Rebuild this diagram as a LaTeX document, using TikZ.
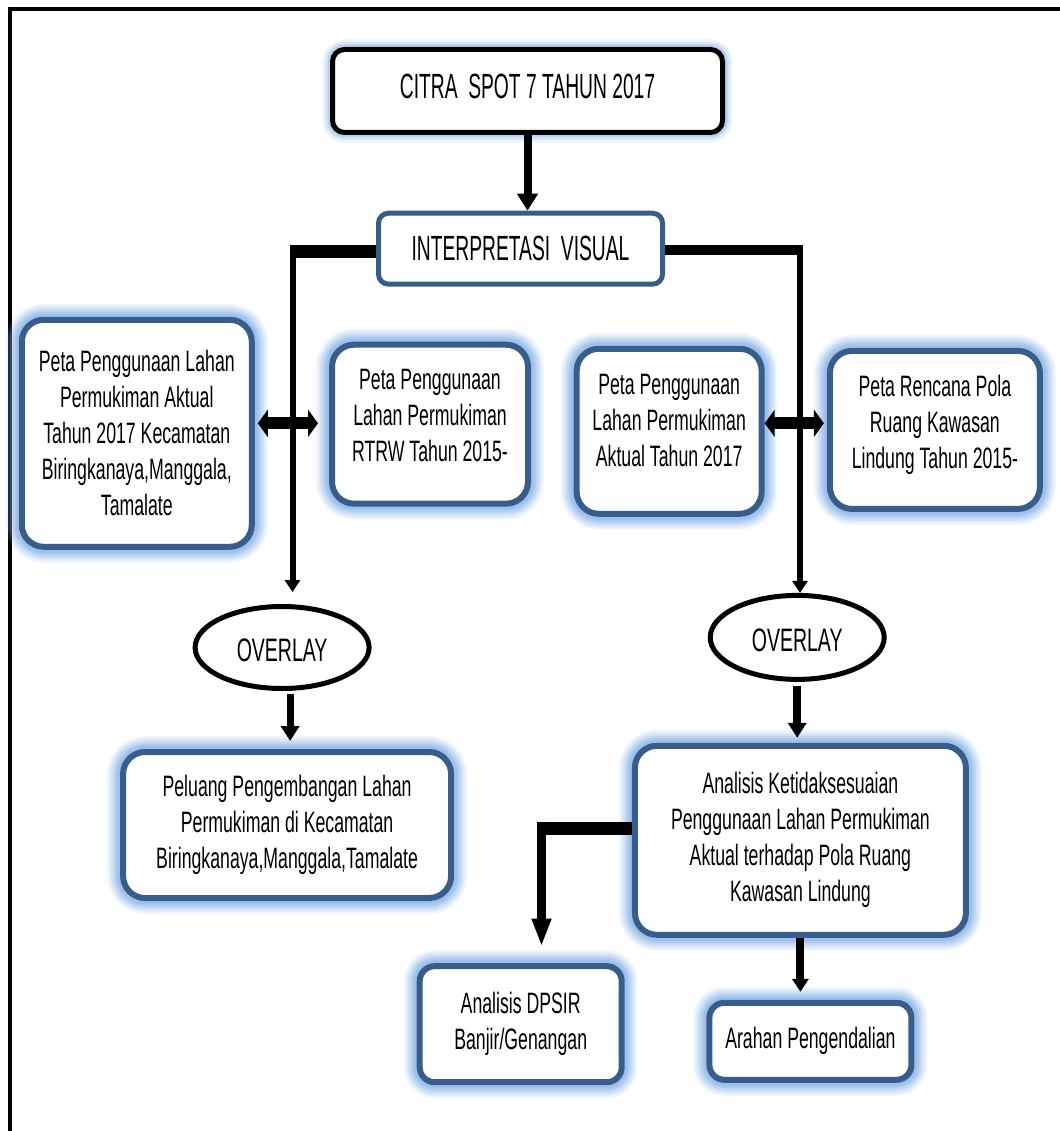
\documentclass[tikz,border=0pt]{standalone}
\usepackage{fontspec}
\setmainfont{Liberation Sans}[FakeStretch=0.6]
\newfontfamily\capsfont{Liberation Sans}[FakeStretch=0.55]
\usepackage{tikz}
\usetikzlibrary{shapes.geometric, positioning}
\usetikzlibrary{arrows.meta}
\tikzset{>={Triangle[length=15pt,width=18pt]}}
\definecolor{bordblue}{RGB}{56,93,138}
\definecolor{glowblue}{RGB}{140,182,232}

\begin{document}
\begin{tikzpicture}[x=1pt, y=1pt, box/.style={rectangle, rounded corners=22pt, draw=bordblue, line width=6pt, fill=white, align=center, inner sep=2pt, font=\fontsize{29.5pt}{36pt}\selectfont, preaction={draw=glowblue, line width=32pt, opacity=0.12}, preaction={draw=glowblue, line width=28pt, opacity=0.15}, preaction={draw=glowblue, line width=24pt, opacity=0.2}, preaction={draw=glowblue, line width=20pt, opacity=0.25}, preaction={draw=glowblue, line width=16pt, opacity=0.35}, preaction={draw=glowblue, line width=12pt, opacity=0.5}}, titlenode/.style={rectangle, rounded corners=12pt, draw=black, line width=5pt, fill=white, inner sep=2pt, font=\capsfont\fontsize{35pt}{42pt}\selectfont, preaction={draw=glowblue, line width=20pt, opacity=0.15}, preaction={draw=glowblue, line width=15pt, opacity=0.25}, preaction={draw=glowblue, line width=10pt, opacity=0.4}}, interpnode/.style={rectangle, rounded corners=10pt, draw=bordblue, line width=5pt, fill=white, inner sep=2pt, font=\capsfont\fontsize{35pt}{42pt}\selectfont}, ovalnode/.style={ellipse, draw=black, line width=5pt, fill=white, inner sep=1pt, text height=28pt, minimum width=174pt, minimum height=82pt, font=\fontsize{32.5pt}{40pt}\selectfont}, conn/.style={line width=8pt, ->}, thinconn/.style={line width=6pt, -{Triangle[length=12pt,width=15pt]}}, bar/.style={line width=12pt}, dbl/.style={line width=12pt, {Triangle[length=10pt,width=27pt]}-{Triangle[length=10pt,width=27pt]}}]

    \useasboundingbox (0,0) rectangle (1059,-1131);
    \draw[line width=4pt] (10,-9.5) rectangle (1090,-1160);

    %Nodes
    \node[titlenode, minimum width=390pt, minimum height=83pt, text depth=10pt](citra) at (527.5,-91){CITRA\ \ SPOT 7 TAHUN 2017};
    \node[interpnode, minimum width=284pt, minimum height=71pt](interpretasi) at (520.5,-248.7){INTERPRETASI\ \ VISUAL};
    \node[box, minimum width=230pt, minimum height=227pt](peta_aktual_kec) at (136.8,-433.3){Peta Penggunaan Lahan\\Permukiman Aktual\\Tahun 2017 Kecamatan\\Biringkanaya,Manggala,\\Tamalate};
    \node[box, minimum width=196pt, minimum height=159pt, text depth=18pt](peta_rtrw) at (430,-424.2){Peta Penggunaan\\Lahan Permukiman\\RTRW Tahun 2015-};
    \node[box, minimum width=185pt, minimum height=165pt, text depth=22pt](peta_aktual) at (669.2,-431.3){Peta Penggunaan\\Lahan Permukiman\\Aktual Tahun 2017};
    \node[box, minimum width=210pt, minimum height=158pt, text depth=17pt](peta_lindung) at (934.9,-429.9){Peta Rencana Pola\\Ruang Kawasan\\Lindung Tahun 2015-};
    \node[ovalnode](overlay_left) at (282.1,-647.5){OVERLAY};
    \node[ovalnode, minimum height=84pt](overlay_right) at (797.2,-637.4){OVERLAY};
    \node[box, minimum width=328pt, minimum height=146pt](peluang)[below=58pt of overlay_left, xshift=5pt]{Peluang Pengembangan Lahan\\Permukiman di Kecamatan\\Biringkanaya,Manggala,Tamalate};
    \node[box, minimum width=331pt, minimum height=189pt](analisis) at (800.4,-840.3){Analisis Ketidaksesuaian\\Penggunaan Lahan Permukiman\\Aktual terhadap Pola Ruang\\Kawasan Lindung};
    \node[box, rounded corners=15pt, minimum width=202pt, minimum height=116pt](dpsir) at (520.7,-1024.2){Analisis DPSIR\\Banjir/Genangan};
    \node[box, rounded corners=15pt, minimum width=202pt, minimum height=77pt](arahan)[below=62pt of analisis, xshift=10pt]{Arahan Pengendalian};

    \coordinate (kiri) at (292.5,-251.5);
    \coordinate (kanan) at (800,-250);
    \coordinate (belok) at (541.5,-828);

    %Lines
    \draw[conn, -{Triangle[length=17pt,width=20pt]}] (citra.south) -- (citra.south |- interpretasi.north);
    \draw[bar, line width=13pt] (interpretasi.west |- kiri) -- ([xshift=-3pt]kiri);
    \draw[thinconn, shorten >=12pt] ([yshift=6.5pt]kiri) -- (kiri |- overlay_left.north);
    \draw[bar, line width=10pt] (interpretasi.east |- kanan) -- ([xshift=3.25pt]kanan);
    \draw[thinconn, line width=6.5pt] ([yshift=5pt]kanan) -- (kanan |- overlay_right.north);
    \draw[dbl, shorten <=3pt, shorten >=11pt] ([yshift=10pt]peta_aktual_kec.east) -- ([yshift=10pt]peta_aktual_kec.east -| peta_rtrw.west);
    \draw[dbl, shorten >=3pt] ([yshift=8pt]peta_aktual.east) -- ([yshift=8pt]peta_aktual.east -| peta_lindung.west);
    \draw[conn, line width=7pt, shorten <=3pt, shorten >=8pt] ([xshift=8pt]overlay_left.south) -- ([xshift=8pt]overlay_left.south |- peluang.north);
    \draw[conn, shorten <=4pt, shorten >=5pt] (overlay_right.south) -- (overlay_right.south |- analisis.north);
    \draw[bar, line width=13pt] (analisis.west |- belok) -- ([xshift=-4.5pt]belok);
    \draw[line width=9pt, -{Triangle[length=28pt,width=18pt]}, shorten >=16.6pt] ([yshift=6.5pt]belok) -- (belok |- dpsir.north);
    \draw[conn, -{Triangle[length=13pt,width=16pt]}, shorten >=8pt] (analisis.south) -- (analisis.south |- arahan.north);

\end{tikzpicture}
\end{document}
